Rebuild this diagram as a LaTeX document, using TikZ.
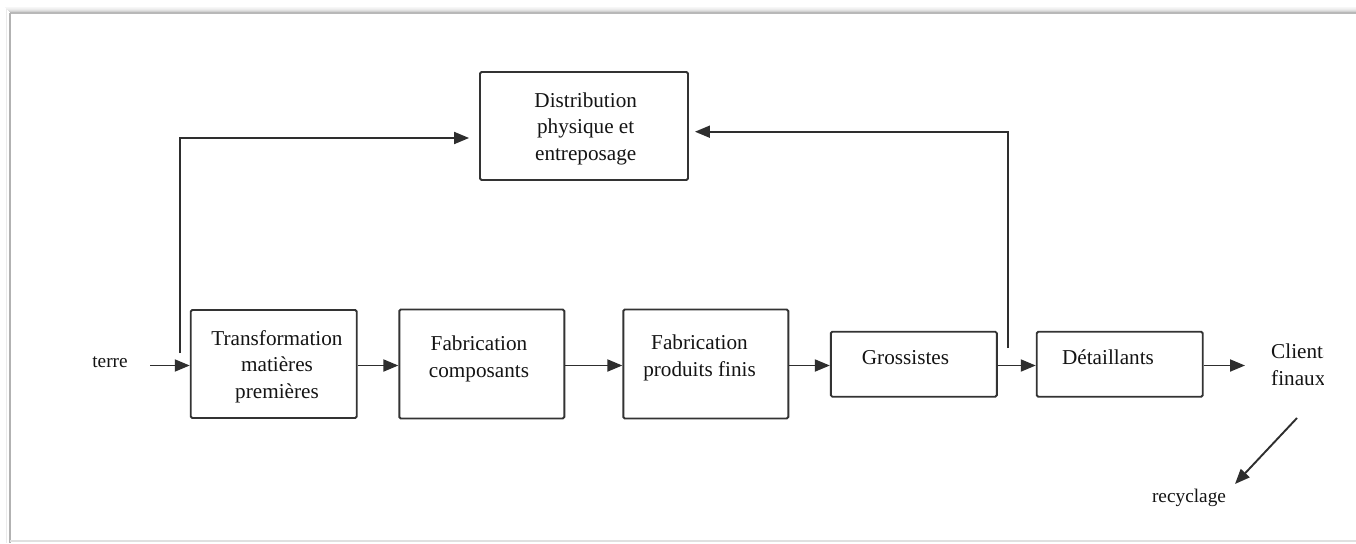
\documentclass[tikz,border=0pt]{standalone}
\usepackage{fontspec}
\setmainfont{Liberation Serif}
\usetikzlibrary{arrows.meta,calc}
\begin{document}
\begin{tikzpicture}[x=1pt,y=-1pt,
  box/.style={draw=black!80, line width=1.9pt, rounded corners=1.5pt, inner sep=0pt},
  lbl/.style={inner sep=0pt, align=center, text=black!92,
              font=\fontsize{21.2}{26.5}\selectfont},
  small/.style={inner sep=0pt, text=black!92, font=\fontsize{19.3}{24}\selectfont},
  arr/.style={draw=black!82, line width=1.9pt, -{Triangle[length=15pt,width=12pt]}}
]
\useasboundingbox (0,0) rectangle (1356,543);
\fill[white] (0,0) rectangle (1356,543);

% page frame with a soft shadow along the top
\foreach \d/\c in {5/3,4/5,3/8,2/12,1/18} {
  \draw[black!\c, line width=1pt] (10-\d,13-\d) -- (1356,13-\d);
}
\draw[black!28, line width=1.5pt] (10,13) -- (1356,13);
\draw[black!30, line width=1.5pt] (10,13) -- (10,543);
\draw[black!8, line width=1pt] (6,9) -- (6,543);
\draw[black!12, line width=1.5pt] (10,541) -- (1356,541);

% blocks
\node[box, minimum width=208pt, minimum height=108pt] (di) at (584,126) {};
\node[box, minimum width=166pt, minimum height=108pt] (tr) at (273.7,364) {};
\node[box, minimum width=165pt, minimum height=109pt] (fc) at (481.8,364) {};
\node[box, minimum width=165pt, minimum height=109pt] (fp) at (705.8,364) {};
\node[box, minimum width=166pt, minimum height=65pt] (gr) at (913.8,364.2) {};
\node[box, minimum width=166pt, minimum height=65pt] (de) at (1119.7,364.2) {};

% block texts
\node[lbl] (dit) at (585.7,128.5) {Distribution\\physique et\\entreposage};
\node[lbl] (trt) at (277,366.5) {Transformation\\matières\\premières};
\node[lbl] (fct) at (479,359) {Fabrication\\composants};
\node[lbl] (fpt) at (699.5,358) {Fabrication\\produits finis};
\node[lbl] (grt) at (905.5,358) {Grossistes};
\node[lbl] (det) at (1108,357.5) {Détaillants};

% free labels
\node[small] (te) at (110,362) {terre};
\node[small] (rc) at (1189,498) {recyclage};
\begin{scope}
  \clip (1250,320) rectangle (1323,410);
  \node[lbl, anchor=west, align=left] (cl) at (1271,364.5) {Clients\\finaux};
\end{scope}

% connectors
\coordinate (mainy) at (0,365.5);
\coordinate (teout) at (150,365.5);
\coordinate (clin) at (1245,365.5);
\coordinate (fbl) at (180,353);
\coordinate (fbr) at (1008,348);
\coordinate (rcs) at (1297,418);
\coordinate (rct) at (1235,484);

\draw[arr] (teout) -- (tr.west |- mainy);
\draw[arr] (tr.east |- mainy) -- (fc.west |- mainy);
\draw[arr] (fc.east |- mainy) -- (fp.west |- mainy);
\draw[arr] (fp.east |- mainy) -- (gr.west |- mainy);
\draw[arr] (gr.east |- mainy) -- (de.west |- mainy);
\draw[arr] (de.east |- mainy) -- (clin);
\draw[arr] (fbl) |- ($(di.west)+(-10,12)$);
\draw[arr] (fbr) |- ($(di.east)+(6,5.7)$);
\draw[arr] (rcs) -- (rct);
\end{tikzpicture}
\end{document}
